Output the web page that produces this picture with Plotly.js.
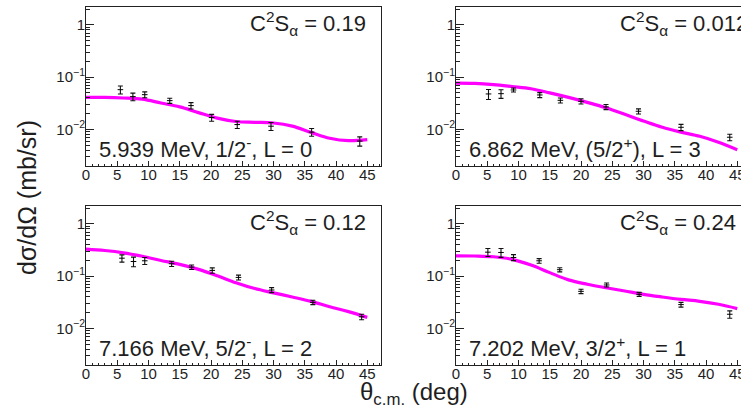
<!DOCTYPE html>
<html><head><meta charset="utf-8">
<script src="https://cdn.plot.ly/plotly-3.0.1.min.js"></script>
<style>html,body{margin:0;padding:0;background:#fff;overflow:hidden}</style>
</head><body><div id="chart" style="width:741px;height:415px"></div>
<script>
// ---- data ----
const angles1 = [5.5, 7.5, 9.4, 13.4, 16.8, 20.1, 24.2, 29.6, 36.1, 43.8];
const xsec1   = [0.0577, 0.0425, 0.0463, 0.0356, 0.0286, 0.0169, 0.0124, 0.01155, 0.0089, 0.0060];
const err1    = [0.010, 0.007, 0.006, 0.004, 0.004, 0.0025, 0.002, 0.002, 0.0015, 0.0012];

const angles2 = [5.2, 7.2, 9.2, 13.4, 16.7, 20.0, 24.0, 29.2, 36.0, 43.8];
const xsec2   = [0.0478, 0.0484, 0.0569, 0.0457, 0.0361, 0.0346, 0.027, 0.0223, 0.0110, 0.0071];
const err2    = [0.0105, 0.009, 0.005, 0.005, 0.004, 0.004, 0.003, 0.0025, 0.0015, 0.001];

const angles3 = [5.75, 7.6, 9.4, 13.7, 16.9, 20.2, 24.4, 29.7, 36.3, 44.1];
const xsec3   = [0.221, 0.191, 0.197, 0.173, 0.149, 0.129, 0.0947, 0.0544, 0.0316, 0.0167];
const err3    = [0.035, 0.04, 0.03, 0.02, 0.015, 0.015, 0.01, 0.006, 0.003, 0.002];

const angles4 = [5.1, 7.2, 9.2, 13.3, 16.6, 20.0, 24.1, 29.3, 36.0, 43.8];
const xsec4   = [0.288, 0.284, 0.228, 0.197, 0.133, 0.0513, 0.0679, 0.045, 0.0286, 0.0187];
const err4    = [0.05, 0.055, 0.03, 0.02, 0.012, 0.005, 0.006, 0.004, 0.003, 0.003];

const curveTheta = [0, 3, 6, 9, 12, 15, 18, 21, 24, 27, 30, 33, 36, 39, 42, 45];
const curve1 = [0.041, 0.041, 0.040, 0.038, 0.032, 0.027, 0.021, 0.0165, 0.0142, 0.0137, 0.0133, 0.0116, 0.0088, 0.0068, 0.0061, 0.0064];
const curve2 = [0.077, 0.076, 0.072, 0.066, 0.060, 0.050, 0.041, 0.033, 0.026, 0.0195, 0.0145, 0.011, 0.0089, 0.0074, 0.0057, 0.0041];
const curve3 = [0.33, 0.31, 0.28, 0.24, 0.20, 0.168, 0.135, 0.102, 0.075, 0.058, 0.048, 0.040, 0.033, 0.026, 0.021, 0.0163];
const curve4 = [0.245, 0.243, 0.235, 0.21, 0.163, 0.117, 0.085, 0.070, 0.060, 0.052, 0.045, 0.040, 0.036, 0.033, 0.029, 0.024];

const c2sValues = ["0.19", "0.012", "0.12", "0.24"];
const stateLabels = [
  "5.939 MeV, 1/2<sup>-</sup>, L = 0",
  "6.862 MeV, (5/2<sup>+</sup>), L = 3",
  "7.166 MeV, 5/2<sup>-</sup>, L = 2",
  "7.202 MeV, 3/2<sup>+</sup>, L = 1"
];
const xTickVals = [0, 5, 10, 15, 20, 25, 30, 35, 40, 45];
const xTickText = ["0", "5", "10", "15", "20", "25", "30", "35", "40", "45"];
const yTickVals = [0.01, 0.1, 1];
const yTickText = ["10<sup>\u22122</sup>", "10<sup>\u22121</sup>", "1"];
const xTitle = "\u03b8<sub>c.m.</sub> (deg)";
const yTitle = "d\u03c3/d\u03a9 (mb/sr)";

// ---- layout helpers ----
const W = 741, H = 415;
const FONT = "Liberation Sans, Arial, sans-serif";
const TXT = "#1e1e1e";
const fx = x => x / W;
const fy = y => 1 - y / H;

const panels = [
  {ang: angles1, val: xsec1, err: err1, curve: curve1, x0: 86, x1: 381, y0: 7, y1: 166, range: [0, 47.2]},
  {ang: angles2, val: xsec2, err: err2, curve: curve2, x0: 456, x1: 741, y0: 7, y1: 166, range: [0, 45.6]},
  {ang: angles3, val: xsec3, err: err3, curve: curve3, x0: 86, x1: 381, y0: 206, y1: 365, range: [0, 47.2]},
  {ang: angles4, val: xsec4, err: err4, curve: curve4, x0: 456, x1: 741, y0: 206, y1: 365, range: [0, 45.6]}
];

const minorY = [];
[0.001, 0.01, 0.1, 1].forEach(d => { for (let k = 2; k <= 9; k++) minorY.push(d * k); });

const data = [];
const layout = {
  width: W, height: H,
  margin: {l: 0, r: 0, t: 0, b: 0},
  paper_bgcolor: "#fff", plot_bgcolor: "#fff",
  showlegend: false,
  font: {family: FONT, color: TXT, size: 15},
  annotations: [],
  shapes: []
};

panels.forEach((p, i) => {
  const n = i + 1;
  const xa = n === 1 ? "x" : "x" + n;
  const ya = n === 1 ? "y" : "y" + n;
  data.push({
    x: curveTheta, y: p.curve, xaxis: xa, yaxis: ya,
    type: "scatter", mode: "lines",
    line: {color: "#ff00ff", width: 3.2, shape: "spline", smoothing: 1},
    hoverinfo: "skip"
  });
  data.push({
    x: p.ang, y: p.val, xaxis: xa, yaxis: ya,
    type: "scatter", mode: "markers",
    marker: {symbol: "line-ew", size: 4, color: "#000", line: {color: "#000", width: 1}},
    error_y: {type: "data", array: p.err, visible: true, color: "#111", thickness: 1.1, width: 2.5},
    hoverinfo: "skip"
  });
  const xk = n === 1 ? "xaxis" : "xaxis" + n;
  const yk = n === 1 ? "yaxis" : "yaxis" + n;
  layout[xk] = {
    domain: [fx(p.x0), fx(p.x1)], anchor: ya, range: p.range,
    tickmode: "array", tickvals: xTickVals, ticktext: xTickText,
    ticks: "inside", ticklen: 5, tickwidth: 1, tickcolor: "#222",
    ticklabelstandoff: -5, ticklabeloverflow: "allow",
    minor: {dtick: 1, ticks: "inside", ticklen: 2.5, tickwidth: 1, tickcolor: "#222", showgrid: false},
    showline: true, linecolor: "#222", linewidth: 1, mirror: true,
    showgrid: false, zeroline: false,
    tickfont: {family: FONT, size: 15, color: TXT}
  };
  layout[yk] = {
    domain: [fy(p.y1), fy(p.y0)], anchor: xa, type: "log",
    range: [Math.log10(0.002), Math.log10(2.2)],
    tickmode: "array", tickvals: yTickVals, ticktext: yTickText,
    ticks: "inside", ticklen: 8, tickwidth: 1, tickcolor: "#222",
    ticklabelstandoff: -3,
    minor: {tickmode: "array", tickvals: minorY, ticks: "inside", ticklen: 4, tickwidth: 1, tickcolor: "#222", showgrid: false},
    showline: true, linecolor: "#222", linewidth: 1, mirror: true,
    showgrid: false, zeroline: false,
    tickfont: {family: FONT, size: 15, color: TXT}
  };
  const cx = (p.x0 === 86) ? 248 : 618;
  layout.annotations.push({
    xref: "paper", yref: "paper", x: fx(cx), y: fy(p.y0 + 16),
    xanchor: "left", yanchor: "middle", showarrow: false,
    text: "C<sup>2</sup>S<sub>\u03b1</sub> = " + c2sValues[i],
    font: {family: FONT, size: 22, color: TXT}
  });
  layout.annotations.push({
    xref: "paper", yref: "paper", x: fx(p.x0 + 11), y: fy(p.y1 - 18),
    xanchor: "left", yanchor: "middle", showarrow: false,
    text: stateLabels[i],
    font: {family: FONT, size: 22, color: TXT}
  });
});

layout.annotations.push({
  xref: "paper", yref: "paper", x: fx(414), y: fy(393),
  xanchor: "center", yanchor: "middle", showarrow: false,
  text: xTitle, font: {family: FONT, size: 24, color: TXT}
});
layout.annotations.push({
  xref: "paper", yref: "paper", x: fx(27), y: fy(198),
  xanchor: "center", yanchor: "middle", showarrow: false, textangle: -90,
  text: yTitle, font: {family: FONT, size: 25, color: TXT}
});

Plotly.newPlot("chart", data, layout, {staticPlot: true, displayModeBar: false});
</script>
</body></html>
